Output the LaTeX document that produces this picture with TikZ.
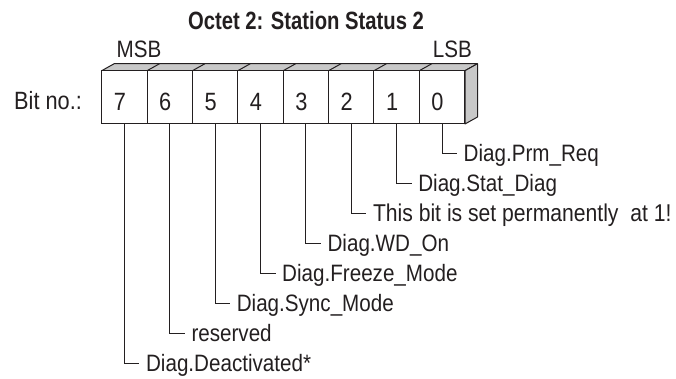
\documentclass[tikz,border=0pt]{standalone}
\usepackage{fontspec}
\setmainfont{Liberation Sans}[FakeStretch=0.87]
\newfontfamily\headfont{Liberation Sans Bold}[FakeStretch=0.81]
\definecolor{ink}{HTML}{231F20}
\definecolor{shade}{HTML}{C8C8C8}
\begin{document}
\begin{tikzpicture}[x=1pt,y=-1pt,
  every node/.style={text=ink},
  cell/.style={draw=ink, line width=1pt, fill=white, minimum width=45.375pt,
    minimum height=53.3pt, inner sep=0pt},
  digit/.style={font=\fontsize{25}{25}\selectfont, inner sep=0pt, anchor=base},
  lab/.style={font=\fontsize{23.7}{24}\selectfont, inner sep=0pt, anchor=west,
    text height=17pt, text depth=0pt},
  wire/.style={draw=ink, line width=0.9pt, shorten >=6.5pt},
  face/.style={draw=ink, line width=1pt, fill=shade, line join=round}]
\useasboundingbox (0,0) rectangle (676,379);

% title and end markers
\node[font=\headfont\fontsize{25}{25}\selectfont, inner sep=0pt, anchor=base]
  (title) at (306,30) {Octet 2: Station Status 2};
\node[font=\fontsize{23.7}{24}\selectfont, inner sep=0pt, anchor=base west]
  (msb) at (116.5,58) {MSB};
\node[font=\fontsize{23.7}{24}\selectfont, inner sep=0pt, anchor=base east]
  (lsb) at (472,58) {LSB};
\node[font=\fontsize{25}{25}\selectfont, inner sep=0pt, anchor=base west]
  (bitno) at (14,110) {Bit no.:};

% 3D top and side faces of the octet
\filldraw[face] (101.7,70.7) -- (465,70.7) -- (477.5,63.7) -- (114.2,63.7) -- cycle;
\filldraw[face] (465,70.7) -- (477.5,63.7) -- (477.5,117) -- (465,124) -- cycle;
\foreach \k in {1,...,7}
  \draw[ink, line width=1pt] (101.7+45.375*\k,70.7) -- ++(12.5,-7);

% bit cells, MSB on the left
\node[cell] (c7) at (124.39,97.35) {};
\node[cell] (c6) at (169.76,97.35) {};
\node[cell] (c5) at (215.14,97.35) {};
\node[cell] (c4) at (260.51,97.35) {};
\node[cell] (c3) at (305.89,97.35) {};
\node[cell] (c2) at (351.26,97.35) {};
\node[cell] (c1) at (396.64,97.35) {};
\node[cell] (c0) at (442.01,97.35) {};

\foreach \b in {0,...,7}
  \node[digit] (d\b) at ([xshift=-4.5pt,yshift=-13pt]c\b.center) {\b};

% bit meanings
\node[lab] (l0) at (463.5,153) {Diag.Prm\_Req};
\node[lab] (l1) at (418.1,183) {Diag.Stat\_Diag};
\node[lab, font=\fontsize{24.3}{25}\selectfont, text height=17.4pt]
  (l2) at (372.8,213) {This bit is set permanently\ \ at 1!};
\node[lab] (l3) at (327.4,243) {Diag.WD\_On};
\node[lab] (l4) at (282.0,273) {Diag.Freeze\_Mode};
\node[lab] (l5) at (236.6,303) {Diag.Sync\_Mode};
\node[lab] (l6) at (191.3,333) {reserved};
\node[lab] (l7) at (145.9,363) {Diag.Deactivated*};

% leader lines from each bit to its meaning
\foreach \b in {0,...,7}
  \draw[wire] (c\b.south) |- (l\b.west);
\end{tikzpicture}
\end{document}
